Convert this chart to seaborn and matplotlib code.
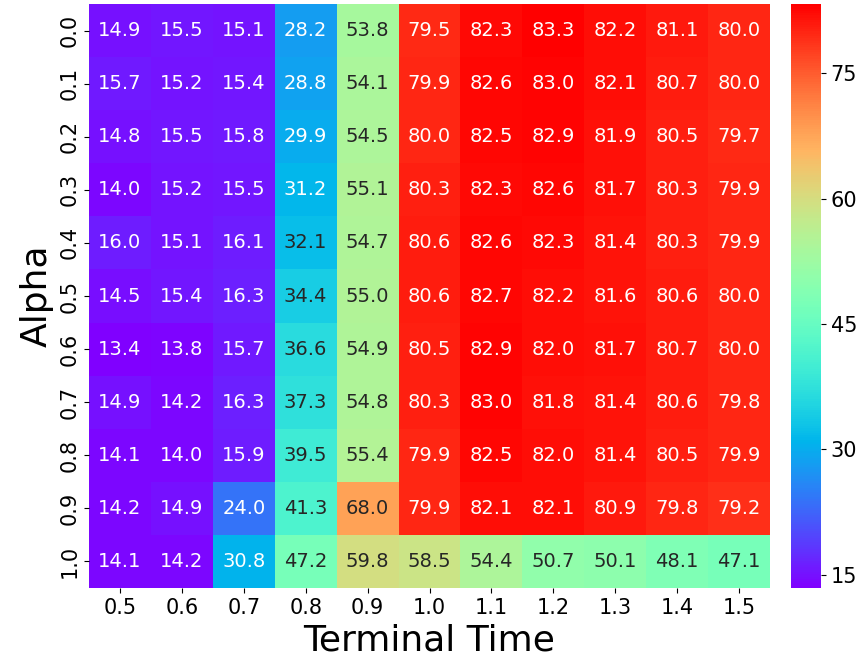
import numpy as np
import pandas as pd
import seaborn as sns
import matplotlib
matplotlib.use("Agg")
import matplotlib.pyplot as plt

alphas = ["0.0", "0.1", "0.2", "0.3", "0.4", "0.5", "0.6", "0.7", "0.8", "0.9", "1.0"]
times = ["0.5", "0.6", "0.7", "0.8", "0.9", "1.0", "1.1", "1.2", "1.3", "1.4", "1.5"]

a00 = [14.9, 15.5, 15.1, 28.2, 53.8, 79.5, 82.3, 83.3, 82.2, 81.1, 80.0]
a01 = [15.7, 15.2, 15.4, 28.8, 54.1, 79.9, 82.6, 83.0, 82.1, 80.7, 80.0]
a02 = [14.8, 15.5, 15.8, 29.9, 54.5, 80.0, 82.5, 82.9, 81.9, 80.5, 79.7]
a03 = [14.0, 15.2, 15.5, 31.2, 55.1, 80.3, 82.3, 82.6, 81.7, 80.3, 79.9]
a04 = [16.0, 15.1, 16.1, 32.1, 54.7, 80.6, 82.6, 82.3, 81.4, 80.3, 79.9]
a05 = [14.5, 15.4, 16.3, 34.4, 55.0, 80.6, 82.7, 82.2, 81.6, 80.6, 80.0]
a06 = [13.4, 13.8, 15.7, 36.6, 54.9, 80.5, 82.9, 82.0, 81.7, 80.7, 80.0]
a07 = [14.9, 14.2, 16.3, 37.3, 54.8, 80.3, 83.0, 81.8, 81.4, 80.6, 79.8]
a08 = [14.1, 14.0, 15.9, 39.5, 55.4, 79.9, 82.5, 82.0, 81.4, 80.5, 79.9]
a09 = [14.2, 14.9, 24.0, 41.3, 68.0, 79.9, 82.1, 82.1, 80.9, 79.8, 79.2]
a10 = [14.1, 14.2, 30.8, 47.2, 59.8, 58.5, 54.4, 50.7, 50.1, 48.1, 47.1]

df = pd.DataFrame([a00, a01, a02, a03, a04, a05, a06, a07, a08, a09, a10],
                  index=alphas, columns=times)

fig = plt.figure(figsize=(8.66, 6.66), dpi=100)
ax = fig.add_axes([89/866, 78/666, 681/866, 584/666])
cax = fig.add_axes([791/866, 78/666, 30/866, 584/666])

sns.heatmap(df, ax=ax, cbar_ax=cax, cmap="rainbow", annot=True, fmt=".1f",
            annot_kws={"size": 14})
cax.set_yticks([15, 30, 45, 60, 75])
cax.tick_params(labelsize=15)
for s in cax.spines.values():
    s.set_visible(False)
ax.tick_params(labelsize=15)
plt.setp(ax.get_yticklabels(), rotation=90, va="center")
plt.setp(ax.get_xticklabels(), rotation=0)
ax.set_xlabel("Terminal Time", fontsize=26)
ax.set_ylabel("Alpha", fontsize=26)
fig.savefig("out.png", dpi=100)
